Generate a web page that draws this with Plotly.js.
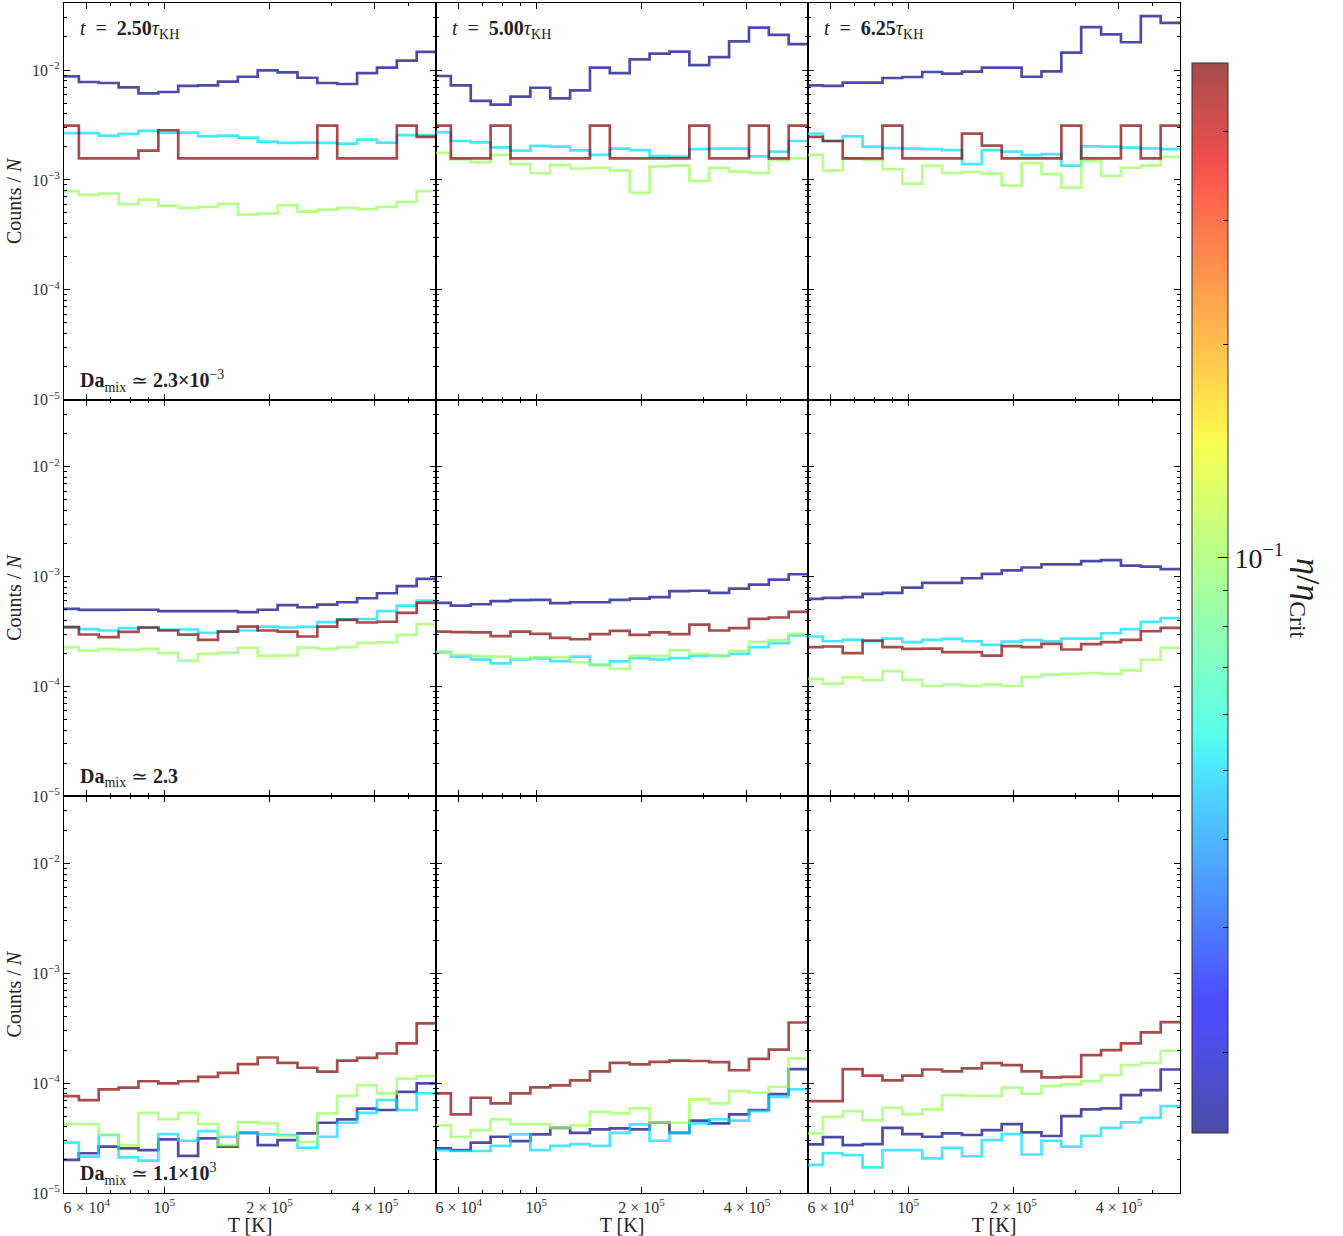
<!DOCTYPE html>
<html>
<head>
<meta charset="utf-8">
<script src="https://cdn.plot.ly/plotly-3.0.1.min.js"></script>
<style>
  html, body { margin: 0; padding: 0; background: #fff; }
  #chart { width: 1343px; height: 1236px; }
</style>
</head>
<body>
<div id="chart"></div>
<script>
// Temperature histograms (Counts / N) of the mixing layer.
// Rows: Da_mix ≃ 2.3e-3, 2.3, 1.1e3.  Columns: t = 2.50, 5.00, 6.25 τ_KH.
// Four resistivities per panel, coloured by η/η_crit.

const ETA = [0.0154, 0.05, 0.1, 0.5];            // η/η_crit of the four curves
const T_MIN = 5e4, T_MAX = 6e5, N_BINS = 19;     // log-spaced temperature bins [K]

const TIMES = ['2.50', '5.00', '6.25'];
const DA_LABELS = ['2.3×10</b><sup>−3</sup>', '2.3</b>', '1.1×10</b><sup>3</sup>'];

// ---- Da_mix ≃ 2.3e-3 ----
const low_t250_eta016 = [8.75e-3, 7.78e-3, 7.62e-3, 6.96e-3, 6.14e-3, 6.31e-3, 7.16e-3, 7.26e-3, 7.83e-3, 8.69e-3, 9.93e-3, 9.53e-3, 8.51e-3, 7.62e-3, 7.46e-3, 9.39e-3, 1.05e-2, 1.22e-2, 1.46e-2];
const low_t250_eta050 = [2.67e-3, 2.67e-3, 2.53e-3, 2.62e-3, 2.79e-3, 2.69e-3, 2.69e-3, 2.49e-3, 2.53e-3, 2.43e-3, 2.23e-3, 2.17e-3, 2.18e-3, 2.17e-3, 2.14e-3, 2.33e-3, 2.18e-3, 2.56e-3, 2.56e-3];
const low_t250_eta100 = [7.89e-4, 7.31e-4, 7.51e-4, 6.01e-4, 6.62e-4, 5.80e-4, 5.56e-4, 5.69e-4, 6.05e-4, 4.84e-4, 4.94e-4, 5.89e-4, 5.15e-4, 5.37e-4, 5.56e-4, 5.41e-4, 5.69e-4, 6.31e-4, 7.89e-4];
const low_t250_eta500 = [3.12e-3, 1.57e-3, 1.57e-3, 1.57e-3, 1.85e-3, 2.83e-3, 1.57e-3, 1.57e-3, 1.57e-3, 1.57e-3, 1.57e-3, 1.57e-3, 1.57e-3, 3.12e-3, 1.57e-3, 1.57e-3, 1.57e-3, 3.12e-3, 2.46e-3];

const low_t500_eta016 = [8.82e-3, 7.26e-3, 5.23e-3, 4.84e-3, 5.72e-3, 6.90e-3, 5.53e-3, 6.53e-3, 1.05e-2, 9.39e-3, 1.25e-2, 1.41e-2, 1.47e-2, 1.11e-2, 1.31e-2, 1.82e-2, 2.43e-2, 2.09e-2, 1.72e-2];
const low_t500_eta050 = [2.71e-3, 2.26e-3, 2.20e-3, 1.98e-3, 1.85e-3, 2.04e-3, 2.01e-3, 1.86e-3, 1.69e-3, 1.93e-3, 1.87e-3, 1.65e-3, 1.63e-3, 1.91e-3, 1.93e-3, 1.93e-3, 1.64e-3, 1.81e-3, 2.26e-3];
const low_t500_eta100 = [1.76e-3, 1.54e-3, 1.45e-3, 1.69e-3, 1.39e-3, 1.15e-3, 1.37e-3, 1.27e-3, 1.29e-3, 1.22e-3, 7.67e-4, 1.33e-3, 1.35e-3, 9.79e-4, 1.29e-3, 1.19e-3, 1.16e-3, 1.51e-3, 1.57e-3];
const low_t500_eta500 = [3.12e-3, 1.57e-3, 1.57e-3, 3.12e-3, 1.57e-3, 1.57e-3, 1.57e-3, 1.57e-3, 3.12e-3, 1.57e-3, 1.57e-3, 1.57e-3, 1.57e-3, 3.12e-3, 1.57e-3, 1.57e-3, 3.12e-3, 1.57e-3, 3.12e-3];

const low_t625_eta016 = [7.26e-3, 7.16e-3, 7.67e-3, 7.67e-3, 8.46e-3, 8.64e-3, 9.59e-3, 9.27e-3, 9.66e-3, 1.05e-2, 1.05e-2, 8.69e-3, 9.73e-3, 1.44e-2, 2.46e-2, 2.11e-2, 1.79e-2, 3.10e-2, 2.69e-2];
const low_t625_eta050 = [2.64e-3, 2.26e-3, 2.49e-3, 2.01e-3, 1.95e-3, 1.93e-3, 1.91e-3, 1.87e-3, 1.39e-3, 1.87e-3, 1.81e-3, 1.68e-3, 1.72e-3, 1.35e-3, 2.02e-3, 2.01e-3, 1.97e-3, 1.94e-3, 1.91e-3];
const low_t625_eta100 = [1.69e-3, 1.22e-3, 1.57e-3, 1.52e-3, 1.25e-3, 9.26e-4, 1.34e-3, 1.16e-3, 1.18e-3, 1.14e-3, 8.87e-4, 1.42e-3, 1.13e-3, 8.51e-4, 1.48e-3, 1.09e-3, 1.29e-3, 1.35e-3, 1.62e-3];
const low_t625_eta500 = [2.46e-3, 2.26e-3, 1.57e-3, 1.57e-3, 3.12e-3, 1.57e-3, 1.57e-3, 1.57e-3, 2.64e-3, 2.05e-3, 1.57e-3, 1.57e-3, 1.57e-3, 3.12e-3, 1.57e-3, 1.57e-3, 3.12e-3, 1.57e-3, 3.12e-3];

// ---- Da_mix ≃ 2.3 ----
const mid_t250_eta016 = [5.08e-4, 4.98e-4, 4.98e-4, 4.99e-4, 4.99e-4, 4.84e-4, 4.84e-4, 4.84e-4, 4.84e-4, 4.74e-4, 4.99e-4, 5.49e-4, 5.26e-4, 5.56e-4, 5.84e-4, 6.35e-4, 7.05e-4, 8.17e-4, 9.53e-4];
const mid_t250_eta050 = [3.46e-4, 3.32e-4, 3.23e-4, 3.39e-4, 3.44e-4, 3.30e-4, 3.30e-4, 3.08e-4, 3.18e-4, 3.23e-4, 3.51e-4, 3.44e-4, 3.48e-4, 3.85e-4, 4.07e-4, 4.11e-4, 4.84e-4, 5.45e-4, 6.05e-4];
const mid_t250_eta100 = [2.28e-4, 2.12e-4, 2.20e-4, 2.15e-4, 2.20e-4, 2.02e-4, 1.72e-4, 1.98e-4, 2.03e-4, 2.25e-4, 1.91e-4, 1.92e-4, 2.26e-4, 2.20e-4, 2.28e-4, 2.49e-4, 2.52e-4, 2.95e-4, 3.69e-4];
const mid_t250_eta500 = [3.46e-4, 2.97e-4, 2.81e-4, 3.14e-4, 3.44e-4, 3.23e-4, 2.96e-4, 2.65e-4, 3.16e-4, 3.51e-4, 3.23e-4, 3.16e-4, 2.85e-4, 3.51e-4, 4.04e-4, 3.82e-4, 3.88e-4, 4.68e-4, 5.77e-4];

const mid_t500_eta016 = [5.77e-4, 5.45e-4, 5.60e-4, 5.97e-4, 6.10e-4, 6.14e-4, 5.73e-4, 5.84e-4, 5.84e-4, 6.14e-4, 6.31e-4, 6.49e-4, 7.36e-4, 7.43e-4, 7.11e-4, 7.78e-4, 8.45e-4, 9.40e-4, 1.05e-3];
const mid_t500_eta050 = [2.05e-4, 1.87e-4, 1.76e-4, 1.62e-4, 1.76e-4, 1.80e-4, 1.70e-4, 1.87e-4, 1.57e-4, 1.69e-4, 1.81e-4, 1.76e-4, 1.81e-4, 1.90e-4, 1.90e-4, 1.98e-4, 2.28e-4, 2.48e-4, 2.91e-4];
const mid_t500_eta100 = [2.05e-4, 1.94e-4, 1.89e-4, 1.87e-4, 1.79e-4, 1.85e-4, 1.85e-4, 1.66e-4, 1.57e-4, 1.45e-4, 1.90e-4, 1.90e-4, 2.14e-4, 1.98e-4, 1.90e-4, 2.11e-4, 2.55e-4, 2.64e-4, 3.01e-4];
const mid_t500_eta500 = [3.16e-4, 3.12e-4, 3.10e-4, 2.87e-4, 3.16e-4, 3.01e-4, 2.77e-4, 2.69e-4, 3.00e-4, 3.21e-4, 2.95e-4, 3.10e-4, 3.00e-4, 3.66e-4, 3.23e-4, 3.39e-4, 4.12e-4, 4.24e-4, 4.77e-4];

const mid_t625_eta016 = [6.27e-4, 6.40e-4, 6.49e-4, 6.95e-4, 7.11e-4, 7.94e-4, 8.75e-4, 8.75e-4, 9.66e-4, 1.06e-3, 1.14e-3, 1.21e-3, 1.29e-3, 1.29e-3, 1.38e-3, 1.41e-3, 1.26e-3, 1.23e-3, 1.17e-3];
const mid_t625_eta050 = [2.85e-4, 2.58e-4, 2.67e-4, 2.58e-4, 2.73e-4, 2.53e-4, 2.65e-4, 2.71e-4, 2.58e-4, 2.39e-4, 2.56e-4, 2.64e-4, 2.58e-4, 2.73e-4, 2.73e-4, 3.05e-4, 3.32e-4, 3.87e-4, 4.18e-4];
const mid_t625_eta100 = [1.17e-4, 1.06e-4, 1.21e-4, 1.14e-4, 1.38e-4, 1.15e-4, 1.01e-4, 1.04e-4, 1.01e-4, 1.04e-4, 1.01e-4, 1.22e-4, 1.28e-4, 1.30e-4, 1.32e-4, 1.30e-4, 1.40e-4, 1.75e-4, 2.25e-4];
const mid_t625_eta500 = [2.28e-4, 2.31e-4, 2.01e-4, 2.62e-4, 2.28e-4, 2.20e-4, 2.21e-4, 2.05e-4, 2.05e-4, 1.91e-4, 2.33e-4, 2.28e-4, 2.44e-4, 2.17e-4, 2.43e-4, 2.53e-4, 2.65e-4, 3.18e-4, 3.41e-4];

// ---- Da_mix ≃ 1.1e3 ----
const high_t250_eta016 = [2.00e-5, 2.30e-5, 2.64e-5, 2.55e-5, 2.46e-5, 3.08e-5, 2.18e-5, 3.14e-5, 2.64e-5, 3.53e-5, 2.73e-5, 3.03e-5, 3.49e-5, 4.36e-5, 4.67e-5, 5.85e-5, 5.69e-5, 8.34e-5, 9.93e-5];
const high_t250_eta050 = [2.87e-5, 2.14e-5, 3.37e-5, 2.11e-5, 1.97e-5, 3.44e-5, 2.99e-5, 3.66e-5, 3.25e-5, 3.53e-5, 3.41e-5, 3.37e-5, 2.58e-5, 3.25e-5, 4.36e-5, 5.37e-5, 7.00e-5, 5.69e-5, 8.05e-5];
const high_t250_eta100 = [4.24e-5, 4.24e-5, 3.37e-5, 2.73e-5, 5.37e-5, 4.71e-5, 5.37e-5, 4.24e-5, 2.73e-5, 4.42e-5, 4.30e-5, 3.30e-5, 2.91e-5, 5.30e-5, 7.67e-5, 9.59e-5, 8.05e-5, 1.10e-4, 1.16e-4];
const high_t250_eta500 = [7.62e-5, 7.00e-5, 8.76e-5, 9.08e-5, 1.04e-4, 9.93e-5, 1.04e-4, 1.14e-4, 1.24e-4, 1.49e-4, 1.71e-4, 1.53e-4, 1.38e-4, 1.27e-4, 1.60e-4, 1.70e-4, 1.86e-4, 2.30e-4, 3.49e-4];

const high_t500_eta016 = [2.55e-5, 2.46e-5, 2.87e-5, 3.25e-5, 2.97e-5, 3.41e-5, 3.92e-5, 3.53e-5, 3.79e-5, 3.87e-5, 3.79e-5, 4.36e-5, 3.53e-5, 4.55e-5, 4.30e-5, 5.19e-5, 5.69e-5, 7.94e-5, 1.34e-4];
const high_t500_eta050 = [2.46e-5, 2.41e-5, 2.41e-5, 2.69e-5, 3.41e-5, 2.46e-5, 2.69e-5, 2.79e-5, 2.69e-5, 3.53e-5, 4.21e-5, 2.99e-5, 3.53e-5, 4.30e-5, 4.67e-5, 4.55e-5, 5.56e-5, 7.51e-5, 8.76e-5];
const high_t500_eta100 = [4.12e-5, 3.25e-5, 3.74e-5, 4.67e-5, 4.24e-5, 4.24e-5, 3.92e-5, 4.12e-5, 5.48e-5, 5.30e-5, 5.89e-5, 4.36e-5, 4.36e-5, 7.11e-5, 6.53e-5, 8.46e-5, 8.17e-5, 9.27e-5, 1.68e-4];
const high_t500_eta500 = [8.05e-5, 5.19e-5, 7.36e-5, 6.53e-5, 8.05e-5, 9.14e-5, 9.53e-5, 1.06e-4, 1.28e-4, 1.53e-4, 1.48e-4, 1.56e-4, 1.60e-4, 1.59e-4, 1.55e-4, 1.31e-4, 1.66e-4, 2.02e-4, 3.56e-4];

const high_t625_eta016 = [2.77e-5, 3.23e-5, 2.73e-5, 2.79e-5, 3.92e-5, 3.44e-5, 3.25e-5, 3.49e-5, 3.37e-5, 3.74e-5, 4.24e-5, 3.56e-5, 3.30e-5, 5.01e-5, 5.77e-5, 5.89e-5, 7.78e-5, 8.64e-5, 1.33e-4];
const high_t625_eta050 = [1.80e-5, 2.30e-5, 2.21e-5, 1.71e-5, 2.46e-5, 2.46e-5, 2.07e-5, 2.58e-5, 2.16e-5, 3.03e-5, 3.44e-5, 2.24e-5, 2.99e-5, 2.64e-5, 3.32e-5, 3.92e-5, 4.39e-5, 4.84e-5, 6.18e-5];
const high_t625_eta100 = [3.49e-5, 4.94e-5, 5.56e-5, 4.61e-5, 5.97e-5, 5.23e-5, 5.77e-5, 7.78e-5, 7.67e-5, 7.67e-5, 9.08e-5, 8.00e-5, 9.39e-5, 9.73e-5, 1.04e-4, 1.18e-4, 1.46e-4, 1.53e-4, 1.97e-4];
const high_t625_eta500 = [6.86e-5, 6.86e-5, 1.34e-4, 1.17e-4, 1.06e-4, 1.17e-4, 1.33e-4, 1.28e-4, 1.36e-4, 1.52e-4, 1.46e-4, 1.28e-4, 1.13e-4, 1.14e-4, 1.80e-4, 2.00e-4, 2.30e-4, 2.89e-4, 3.59e-4];

// Panels in reading order (row-major), each holding the four η curves.
const PANELS = [
  [low_t250_eta016, low_t250_eta050, low_t250_eta100, low_t250_eta500],
  [low_t500_eta016, low_t500_eta050, low_t500_eta100, low_t500_eta500],
  [low_t625_eta016, low_t625_eta050, low_t625_eta100, low_t625_eta500],
  [mid_t250_eta016, mid_t250_eta050, mid_t250_eta100, mid_t250_eta500],
  [mid_t500_eta016, mid_t500_eta050, mid_t500_eta100, mid_t500_eta500],
  [mid_t625_eta016, mid_t625_eta050, mid_t625_eta100, mid_t625_eta500],
  [high_t250_eta016, high_t250_eta050, high_t250_eta100, high_t250_eta500],
  [high_t500_eta016, high_t500_eta050, high_t500_eta100, high_t500_eta500],
  [high_t625_eta016, high_t625_eta050, high_t625_eta100, high_t625_eta500]
];

// ---------- styling helpers ----------
const SERIF = 'Liberation Serif, DejaVu Serif, serif';
const ALPHA = 0.7;

// matplotlib "jet" segment data
const JET = {
  r: [[0, 0], [0.35, 0], [0.66, 1], [0.89, 1], [1, 0.5]],
  g: [[0, 0], [0.125, 0], [0.375, 1], [0.64, 1], [0.91, 0], [1, 0]],
  b: [[0, 0.5], [0.11, 1], [0.34, 1], [0.65, 0], [1, 0]]
};
function seg(pts, t) {
  for (let i = 1; i < pts.length; i++) {
    if (t <= pts[i][0]) {
      const [x0, y0] = pts[i - 1], [x1, y1] = pts[i];
      return y0 + (y1 - y0) * (t - x0) / (x1 - x0);
    }
  }
  return pts[pts.length - 1][1];
}
function jet(t) { return [seg(JET.r, t), seg(JET.g, t), seg(JET.b, t)].map(v => Math.round(v * 255)); }
function overWhite(rgb) { return rgb.map(v => Math.round(255 * (1 - ALPHA) + v * ALPHA)); }

const CMIN = Math.log10(Math.min(...ETA));
const CMAX = Math.log10(Math.max(...ETA));
const frac = eta => (Math.log10(eta) - CMIN) / (CMAX - CMIN);

const CB_SCALE = [];
for (let i = 0; i <= 64; i++) {
  const t = i / 64;
  const c = overWhite(jet(t));
  CB_SCALE.push([t, `rgb(${c[0]},${c[1]},${c[2]})`]);
}
const LINE_COLORS = ETA.map(e => { const c = jet(frac(e)); return `rgba(${c[0]},${c[1]},${c[2]},${ALPHA})`; });

// bin edges
const EDGES = [];
for (let i = 0; i <= N_BINS; i++) {
  EDGES.push(Math.pow(10, Math.log10(T_MIN) + i * (Math.log10(T_MAX) - Math.log10(T_MIN)) / N_BINS));
}

const X_RANGE = [4.7133, 5.7765];
const Y_RANGE = [-5, -1.39];
const X_TICKS = [6e4, 1e5, 2e5, 4e5];
const X_TICKTEXT = ['6 × 10<sup>4</sup>', '10<sup>5</sup>', '2 × 10<sup>5</sup>', '4 × 10<sup>5</sup>'];
const X_MINOR = [7e4, 8e4, 9e4, 3e5, 5e5];
const Y_TICKS = [1e-5, 1e-4, 1e-3, 1e-2];
const Y_TICKTEXT = ['10<sup>−5</sup>', '10<sup>−4</sup>', '10<sup>−3</sup>', '10<sup>−2</sup>'];
const Y_MINOR = [];
for (let d = -5; d <= -2; d++) for (let m = 2; m <= 9; m++) Y_MINOR.push(m * Math.pow(10, d));

const tickFont = { family: SERIF, size: 16, color: '#333' };
const titleFont = { family: SERIF, size: 20, color: '#222' };
const noteFont = { family: SERIF, size: 20, color: '#222' };

const traces = [];
const layout = {
  width: 1343, height: 1236,
  margin: { l: 64, r: 163, t: 3, b: 43, pad: 0 },
  paper_bgcolor: '#fff', plot_bgcolor: '#fff',
  showlegend: false,
  font: { family: SERIF, color: '#222' },
  annotations: []
};

for (let p = 0; p < 9; p++) {
  const r = Math.floor(p / 3), c = p % 3;
  const sfx = p === 0 ? '' : String(p + 1);
  const xid = 'x' + sfx, yid = 'y' + sfx;

  layout['xaxis' + sfx] = {
    type: 'log', range: X_RANGE, domain: [c / 3, (c + 1) / 3], anchor: yid,
    showline: true, linecolor: '#000', linewidth: 1, mirror: 'ticks',
    ticks: 'inside', ticklen: 6, tickwidth: 1, tickcolor: '#000',
    tickmode: 'array', tickvals: X_TICKS, ticktext: X_TICKTEXT,
    minor: { tickmode: 'array', tickvals: X_MINOR, ticks: 'inside', ticklen: 3, tickcolor: '#000', showgrid: false },
    showticklabels: r === 2, tickfont: tickFont,
    showgrid: false, zeroline: false,
    title: r === 2 ? { text: 'T [K]', font: titleFont, standoff: 0 } : { text: '' }
  };
  layout['yaxis' + sfx] = {
    type: 'log', range: Y_RANGE, domain: [1 - (r + 1) / 3, 1 - r / 3], anchor: xid,
    showline: true, linecolor: '#000', linewidth: 1, mirror: 'ticks',
    ticks: 'inside', ticklen: 6, tickwidth: 1, tickcolor: '#000',
    tickmode: 'array', tickvals: Y_TICKS, ticktext: Y_TICKTEXT,
    minor: { tickmode: 'array', tickvals: Y_MINOR, ticks: 'inside', ticklen: 3, tickcolor: '#000', showgrid: false },
    showticklabels: c === 0, tickfont: tickFont,
    showgrid: false, zeroline: false,
    title: c === 0 ? { text: 'Counts / <i>N</i>', font: titleFont, standoff: 4 } : { text: '' }
  };

  PANELS[p].forEach((vals, k) => {
    traces.push({
      type: 'scatter', mode: 'lines', xaxis: xid, yaxis: yid,
      x: EDGES, y: vals.concat([vals[vals.length - 1]]),
      line: { shape: 'hv', color: LINE_COLORS[k], width: 2.7 },
      hoverinfo: 'skip', showlegend: false
    });
  });

  if (r === 0) {
    layout.annotations.push({
      xref: xid + ' domain', yref: yid + ' domain', x: 0.037, y: 0.934,
      xanchor: 'left', yanchor: 'middle', showarrow: false,
      text: `<i>t</i>  =  <b>${TIMES[c]}</b><i>τ</i><sub>KH</sub>`,
      font: noteFont
    });
  }
  if (c === 0) {
    layout.annotations.push({
      xref: xid + ' domain', yref: yid + ' domain', x: 0.037, y: 0.047,
      xanchor: 'left', yanchor: 'middle', showarrow: false,
      text: `<b>Da</b><sub>mix</sub> ≃ <b>${DA_LABELS[r]}`,
      font: noteFont
    });
  }
}

// colour bar: labelled major tick + unlabelled minor ticks (transparent overlay)
const cbGeom = {
  x: (1192 - 64) / 1116, xanchor: 'left', xpad: 0,
  y: 0.5, yanchor: 'middle', ypad: 0,
  len: 1070, lenmode: 'pixels', thickness: 36
};
traces.push({
  type: 'scatter', mode: 'markers', x: [null], y: [null], hoverinfo: 'skip', showlegend: false,
  marker: {
    color: [CMIN], cmin: CMIN, cmax: CMAX, colorscale: CB_SCALE, showscale: true,
    colorbar: Object.assign({}, cbGeom, {
      outlinewidth: 1, outlinecolor: '#333',
      tickmode: 'array', tickvals: [-1], ticktext: ['10<sup>−1</sup>'],
      ticks: 'inside', ticklen: 10, tickwidth: 1, tickcolor: '#000',
      tickfont: { family: SERIF, size: 28, color: '#222' },
      title: { text: '' }
    })
  }
});
const CB_MINOR = [0.02, 0.03, 0.04, 0.05, 0.06, 0.07, 0.08, 0.09, 0.2, 0.3, 0.4].map(v => Math.log10(v));
traces.push({
  type: 'scatter', mode: 'markers', x: [null], y: [null], hoverinfo: 'skip', showlegend: false,
  marker: {
    color: [CMIN], cmin: CMIN, cmax: CMAX,
    colorscale: [[0, 'rgba(0,0,0,0)'], [1, 'rgba(0,0,0,0)']], showscale: true,
    colorbar: Object.assign({}, cbGeom, {
      outlinewidth: 0,
      tickmode: 'array', tickvals: CB_MINOR,
      ticks: 'inside', ticklen: 5, tickwidth: 1, tickcolor: '#000',
      showticklabels: false, title: { text: '' }
    })
  }
});

layout.annotations.push({
  xref: 'paper', yref: 'paper', x: (1306 - 64) / 1116, y: 0.5,
  xanchor: 'center', yanchor: 'middle', showarrow: false, textangle: 90,
  text: '<i>η</i>/<i>η</i><sub>Crit</sub>',
  font: { family: SERIF, size: 34, color: '#222' }
});

Plotly.newPlot('chart', traces, layout, { displayModeBar: false, staticPlot: true });
</script>
</body>
</html>
